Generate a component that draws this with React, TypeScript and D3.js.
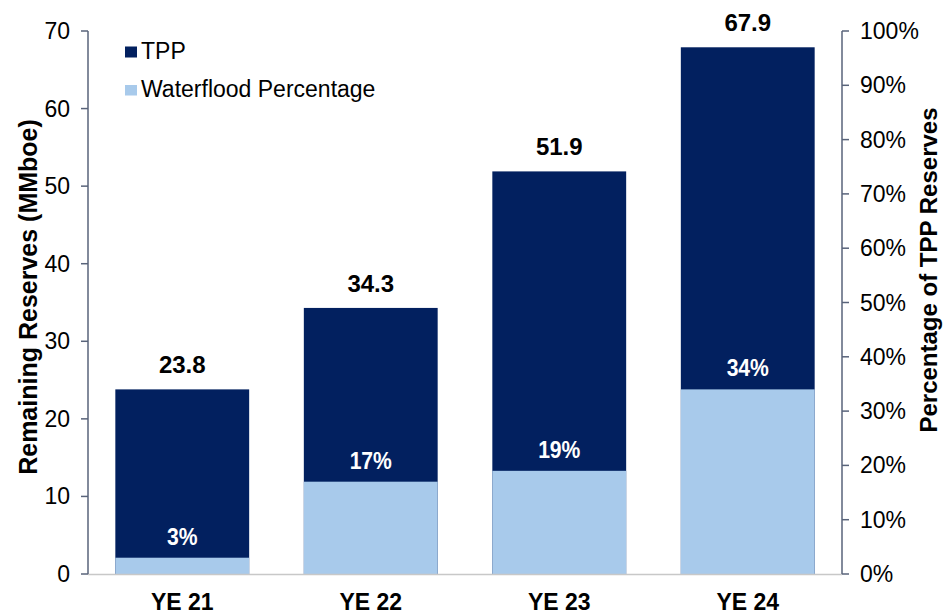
import React from "react";
import * as d3 from "d3";

const categories = ["YE 21", "YE 22", "YE 23", "YE 24"];
const tppValues = [23.8, 34.3, 51.9, 67.9];
const waterfloodPct = [3, 17, 19, 34];
const leftTicks = [0, 10, 20, 30, 40, 50, 60, 70];
const rightTicks = [0, 10, 20, 30, 40, 50, 60, 70, 80, 90, 100];

const W = 945, H = 614;
const M = { left: 88, right: 842, top: 31, bottom: 574 };
const DARK = "#02205f";
const LIGHT = "#a8caeb";
const AXIS = "#58637a";
const FONT = "Liberation Sans, Arial, sans-serif";

export default function App() {
  const x = d3.scaleBand().domain(categories).range([M.left, M.right]).paddingInner(0.29).paddingOuter(0.145);
  const yL = d3.scaleLinear().domain([0, 70]).range([M.bottom, M.top]);
  const yR = d3.scaleLinear().domain([0, 100]).range([M.bottom, M.top]);
  return (
    <svg width={W} height={H} style={{ position: "absolute", left: 0, top: 0, background: "#fff" }} fontFamily={FONT}>
      {categories.map((c, i) => {
        const cx = x(c)! + x.bandwidth() / 2;
        return (
          <g key={c}>
            <rect x={x(c)} y={yL(tppValues[i])} width={x.bandwidth()} height={yL(0) - yL(tppValues[i])} fill={DARK} />
            <rect x={x(c)} y={yR(waterfloodPct[i])} width={x.bandwidth()} height={yR(0) - yR(waterfloodPct[i])} fill={LIGHT} />
            <text x={cx} y={yL(tppValues[i]) - 16} textAnchor="middle" fontSize={24} fontWeight="bold" fill="#000">{tppValues[i].toFixed(1)}</text>
            <text transform={`translate(${cx},${yR(waterfloodPct[i]) - 13}) scale(0.88,1)`} textAnchor="middle" fontSize={24} fontWeight="bold" fill="#fff">{waterfloodPct[i]}%</text>
            <text x={cx} y={610} textAnchor="middle" fontSize={23} fontWeight="bold" fill="#000">{c}</text>
          </g>
        );
      })}
      <line x1={M.left} x2={M.right} y1={M.bottom + 0.5} y2={M.bottom + 0.5} stroke="#c8c8c8" strokeWidth={1.5} />
      <line x1={M.left} x2={M.left} y1={M.top} y2={M.bottom} stroke={AXIS} strokeWidth={1.5} />
      {leftTicks.map(t => (
        <g key={t}>
          <line x1={M.left - 7} x2={M.left} y1={yL(t)} y2={yL(t)} stroke={AXIS} strokeWidth={1.5} />
          <text x={70} y={yL(t) + 8} textAnchor="end" fontSize={23} fill="#000">{t}</text>
        </g>
      ))}
      <line x1={M.right} x2={M.right} y1={M.top} y2={M.bottom} stroke={AXIS} strokeWidth={1.5} />
      {rightTicks.map(t => (
        <g key={t}>
          <line x1={M.right} x2={M.right + 7} y1={yR(t)} y2={yR(t)} stroke={AXIS} strokeWidth={1.5} />
          <text x={860} y={yR(t) + 8} textAnchor="start" fontSize={23} fill="#000">{t}%</text>
        </g>
      ))}
      <text transform={`translate(37,297) rotate(-90)`} textAnchor="middle" fontSize={25} fontWeight="bold" fill="#000">Remaining Reserves (MMboe)</text>
      <text transform={`translate(937,270) rotate(-90)`} textAnchor="middle" fontSize={24} fontWeight="bold" fill="#000">Percentage of TPP Reserves</text>
      <rect x={125} y={46.5} width={12} height={11} fill={DARK} />
      <text x={141} y={59.3} fontSize={23} fill="#000">TPP</text>
      <rect x={125} y={85} width={12} height={10.5} fill={LIGHT} />
      <text x={141} y={97} fontSize={23} fill="#000">Waterflood Percentage</text>
    </svg>
  );
}
